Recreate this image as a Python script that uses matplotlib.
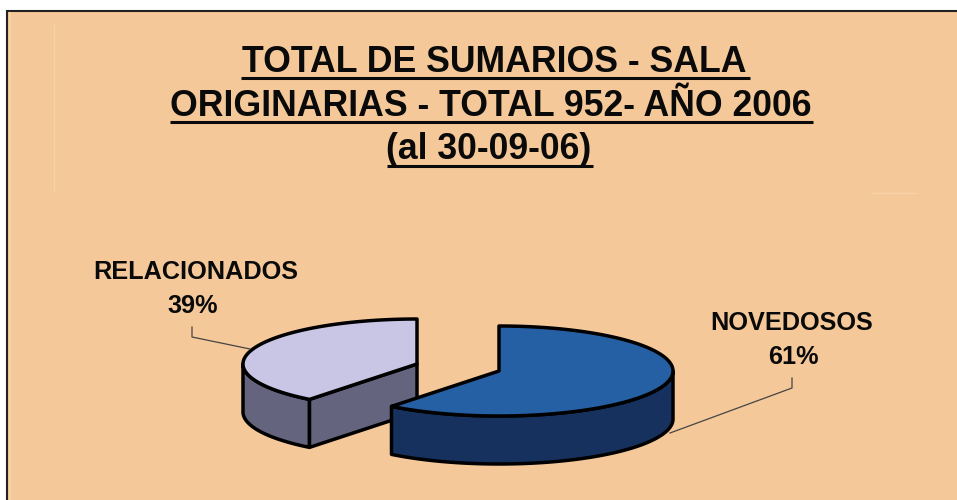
import numpy as np
import matplotlib
matplotlib.use("Agg")
import matplotlib.pyplot as plt
from matplotlib.patches import Polygon

plt.rcParams["font.family"] = ["Liberation Sans", "DejaVu Sans"]

title_lines = ["TOTAL DE SUMARIOS - SALA", "ORIGINARIAS - TOTAL 952- AÑO 2006", "(al 30-09-06)"]
categories = ["NOVEDOSOS", "RELACIONADOS"]
values = [60.6, 39.4]

BG = "#F5C899"
INK = "#0A0A0A"
TOP_COLORS = ["#2660A4", "#C8C6E4"]
SIDE_COLORS = ["#17315F", "#64647E"]
CENTERS = [(499, 371), (417, 364)]
RX, RY, DEPTH = 174, 45, 48


def rim(center, a0, a1):
    # angles in degrees clockwise from 12 o'clock
    t = np.radians(np.linspace(a0, a1, 120))
    return np.column_stack([center[0] + RX * np.sin(t), center[1] - RY * np.cos(t)])


def drop(pts):
    return pts + np.array([0, DEPTH])


fig = plt.figure(figsize=(9.57, 5), dpi=100, facecolor="white")
ax = fig.add_axes([0, 0, 1, 1])
ax.set_xlim(0, 957)
ax.set_ylim(500, 0)
ax.axis("off")

# background panel
ax.add_patch(plt.Rectangle((7, 11), 960, 500, fc=BG, ec="#222222", lw=1.5))
ax.plot([54, 54], [25, 190], color="#F8D2A8", lw=1)
ax.plot([10, 10], [13, 500], color="#F8D2A8", lw=1.5)
ax.plot([872, 916], [193, 193], color="#F8D2A8", lw=1)

edge = dict(ec="black", lw=2.5, joinstyle="round")

# slices: RELACIONADOS goes first so the blue one overlaps it
end_blue = 360 * values[0] / sum(values)

c = np.array(CENTERS[1])
top = rim(c, end_blue, 360)
wall = np.vstack([top[0], c, drop(c), drop(top[0])])
left = rim(c, end_blue, 270)
ax.add_patch(Polygon(np.vstack([left, drop(left)[::-1]]), fc=SIDE_COLORS[1], **edge))
ax.add_patch(Polygon(wall, fc=SIDE_COLORS[1], **edge))
ax.add_patch(Polygon(np.vstack([c, top]), fc=TOP_COLORS[1], **edge))

c = np.array(CENTERS[0])
top = rim(c, 0, end_blue)
front = rim(c, 90, end_blue)
ax.add_patch(Polygon(np.vstack([front, drop(front)[::-1]]), fc=SIDE_COLORS[0], **edge))
ax.add_patch(Polygon(np.vstack([c, top]), fc=TOP_COLORS[0], **edge))

# leader lines
ax.plot([192, 192, 250], [327, 337, 349], color="#444444", lw=0.9)
ax.plot([670, 792, 792], [433, 388, 378], color="#444444", lw=0.9)

# title
title_base = [72, 116, 159]
title_rule = [78, 122, 166]
for i, line in enumerate(title_lines):
    x0, x1 = [(241, 750), (170, 813), (387, 593)][i]
    ax.text((x0 + x1) / 2 - 1, title_base[i], line, ha="center", va="baseline", fontsize=25.7, fontweight="bold", color=INK)
    ax.plot([x0, x1], [title_rule[i], title_rule[i]], color=INK, lw=2.2, solid_capstyle="butt")

# labels
ax.text(196, 279, categories[1], ha="center", va="baseline", fontsize=18.2, fontweight="bold", color=INK)
ax.text(193, 313, f"{values[1]:.0f}%", ha="center", va="baseline", fontsize=18.2, fontweight="bold", color=INK)
ax.text(792, 330, categories[0], ha="center", va="baseline", fontsize=18.2, fontweight="bold", color=INK)
ax.text(793, 364, f"{values[0]:.0f}%", ha="center", va="baseline", fontsize=18.2, fontweight="bold", color=INK)

fig.savefig("out.png", dpi=100)
